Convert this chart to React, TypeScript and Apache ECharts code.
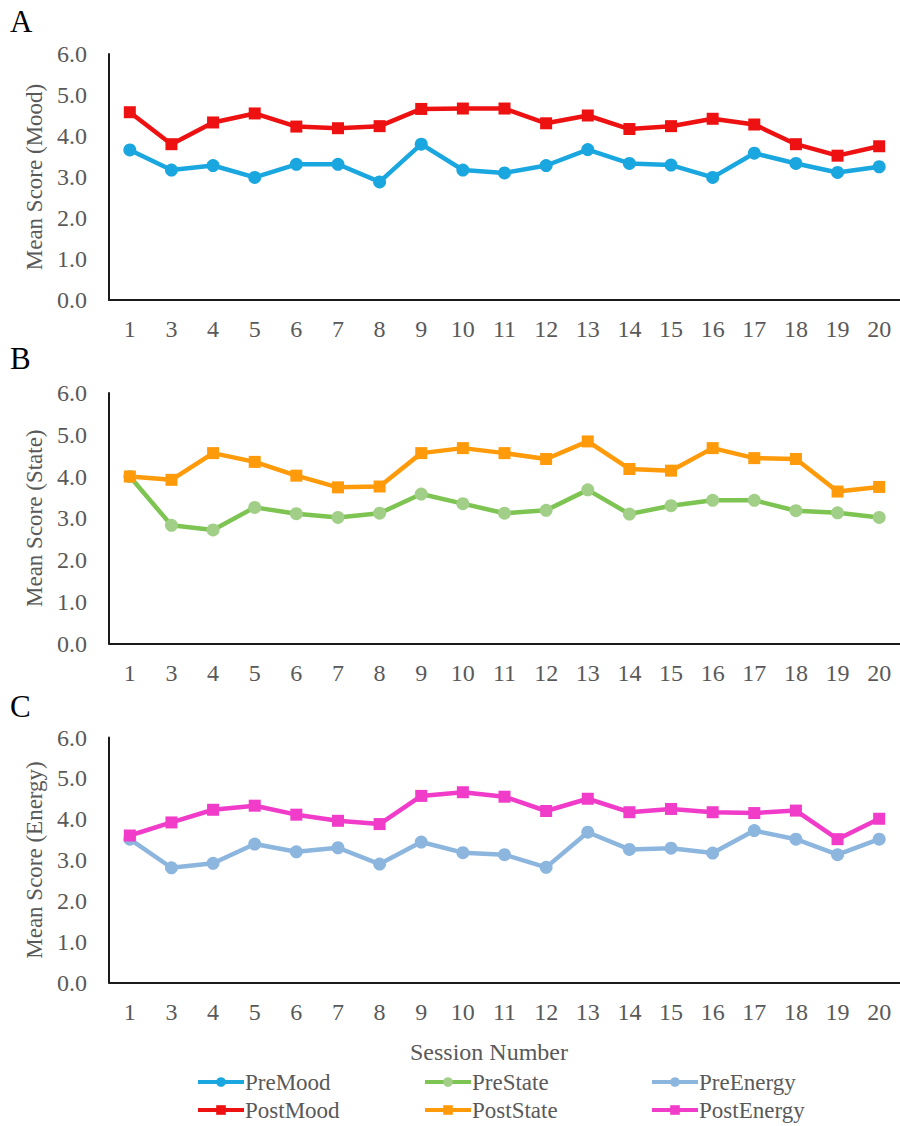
import React, { useEffect, useRef } from "react";
import * as echarts from "echarts";

const sessions = ["1", "3", "4", "5", "6", "7", "8", "9", "10", "11", "12", "13", "14", "15", "16", "17", "18", "19", "20"];
const yTicks = [0, 1, 2, 3, 4, 5, 6];

const preMood = [3.66, 3.17, 3.28, 2.99, 3.31, 3.31, 2.88, 3.8, 3.17, 3.1, 3.28, 3.67, 3.33, 3.29, 2.99, 3.58, 3.33, 3.11, 3.25];
const postMood = [4.58, 3.8, 4.33, 4.55, 4.23, 4.19, 4.24, 4.66, 4.67, 4.67, 4.31, 4.5, 4.17, 4.24, 4.42, 4.28, 3.8, 3.52, 3.75];
const preState = [4.0, 2.83, 2.72, 3.26, 3.11, 3.02, 3.12, 3.58, 3.35, 3.12, 3.19, 3.68, 3.1, 3.3, 3.43, 3.43, 3.18, 3.13, 3.02];
const postState = [4.0, 3.92, 4.56, 4.35, 4.02, 3.74, 3.76, 4.56, 4.68, 4.56, 4.42, 4.84, 4.18, 4.14, 4.68, 4.44, 4.42, 3.64, 3.75];
const preEnergy = [3.51, 2.81, 2.92, 3.39, 3.2, 3.3, 2.9, 3.44, 3.18, 3.13, 2.82, 3.68, 3.26, 3.29, 3.17, 3.72, 3.51, 3.13, 3.51];
const postEnergy = [3.6, 3.92, 4.23, 4.33, 4.11, 3.96, 3.88, 4.57, 4.66, 4.55, 4.2, 4.5, 4.17, 4.25, 4.17, 4.15, 4.21, 3.51, 4.01];

const panelLetters = ["A", "B", "C"];
const yNames = ["Mean Score (Mood)", "Mean Score (State)", "Mean Score (Energy)"];
const xTitle = "Session Number";

const FONT = "Liberation Serif";
const GREY = "#595959";

export default function App() {
  const ref = useRef<HTMLDivElement>(null);

  useEffect(() => {
    if (!ref.current) return;
    const chart = echarts.init(ref.current, undefined, { renderer: "svg" });

    const grids = [
      { left: 109, top: 54, width: 793, height: 246 },
      { left: 109, top: 393, width: 793, height: 250.5 },
      { left: 109, top: 737.5, width: 793, height: 245 },
    ];

    const xAxes = grids.map((_, i) => ({
      type: "category",
      gridIndex: i,
      data: sessions,
      boundaryGap: true,
      axisLine: { show: true, lineStyle: { color: "#1a1a1a", width: 2 } },
      axisTick: { show: false },
      axisLabel: { interval: 0, color: GREY, fontSize: 24, fontFamily: FONT, margin: 17 },
      splitLine: { show: false },
    }));

    const yAxes = grids.map((_, i) => ({
      type: "value",
      gridIndex: i,
      min: yTicks[0],
      max: yTicks[yTicks.length - 1],
      interval: 1,
      name: yNames[i],
      nameLocation: "middle",
      nameGap: 56,
      nameTextStyle: { color: GREY, fontSize: 23, fontFamily: FONT },
      axisLine: { show: true, lineStyle: { color: "#1a1a1a", width: 2 } },
      axisTick: { show: false },
      splitLine: { show: false },
      axisLabel: {
        color: GREY,
        fontSize: 24,
        fontFamily: FONT,
        margin: 22,
        formatter: (v: number) => v.toFixed(1),
      },
    }));

    const mk = (name: string, data: number[], idx: number, lineColor: string, markColor: string, symbol: string, size: number) => ({
      name,
      type: "line",
      xAxisIndex: idx,
      yAxisIndex: idx,
      data,
      symbol,
      symbolSize: size,
      lineStyle: { color: lineColor, width: 4.5 },
      itemStyle: { color: markColor },
      emphasis: { disabled: true },
    });

    const series = [
      mk("PreMood", preMood, 0, "#1AA7E0", "#1AA7E0", "circle", 13),
      mk("PostMood", postMood, 0, "#EE1111", "#EE1111", "rect", 12),
      mk("PreState", preState, 1, "#7EC452", "#A2CF88", "circle", 13),
      mk("PostState", postState, 1, "#FF9A0A", "#FF9A0A", "rect", 12),
      mk("PreEnergy", preEnergy, 2, "#8DB6DF", "#8DB6DF", "circle", 13),
      mk("PostEnergy", postEnergy, 2, "#F03CC8", "#F03CC8", "rect", 12),
    ];

    const legendPos: [string, number, number][] = [
      ["PreMood", 196, 1082],
      ["PostMood", 196, 1110],
      ["PreState", 423, 1082],
      ["PostState", 423, 1110],
      ["PreEnergy", 650, 1082],
      ["PostEnergy", 650, 1110],
    ];

    const legends = legendPos.map(([name, left, cy]) => ({
      data: [name],
      left,
      top: cy - 11.5,
      padding: 0,
      itemGap: 0,
      itemWidth: 46,
      itemHeight: 12,
      selectedMode: false,
      lineStyle: { width: 4 },
      textStyle: { color: GREY, fontSize: 23, fontFamily: FONT, padding: [0, 0, 0, -4] },
    }));

    const letterY = [21, 358, 706];
    const graphic: any[] = panelLetters.map((t, i) => ({
      type: "text",
      left: 10,
      top: letterY[i] - 15,
      style: { text: t, fill: "#000", fontSize: 31, fontFamily: FONT },
    }));
    graphic.push({
      type: "text",
      x: 489,
      y: 1052,
      style: { text: xTitle, fill: GREY, fontSize: 24, fontFamily: FONT, align: "center", verticalAlign: "middle" },
    });

    chart.setOption({
      animation: false,
      backgroundColor: "#fff",
      grid: grids,
      xAxis: xAxes,
      yAxis: yAxes,
      series,
      legend: legends,
      graphic,
    });

    return () => chart.dispose();
  }, []);

  return <div ref={ref} style={{ position: "absolute", left: 0, top: 0, width: 900, height: 1126 }} />;
}
